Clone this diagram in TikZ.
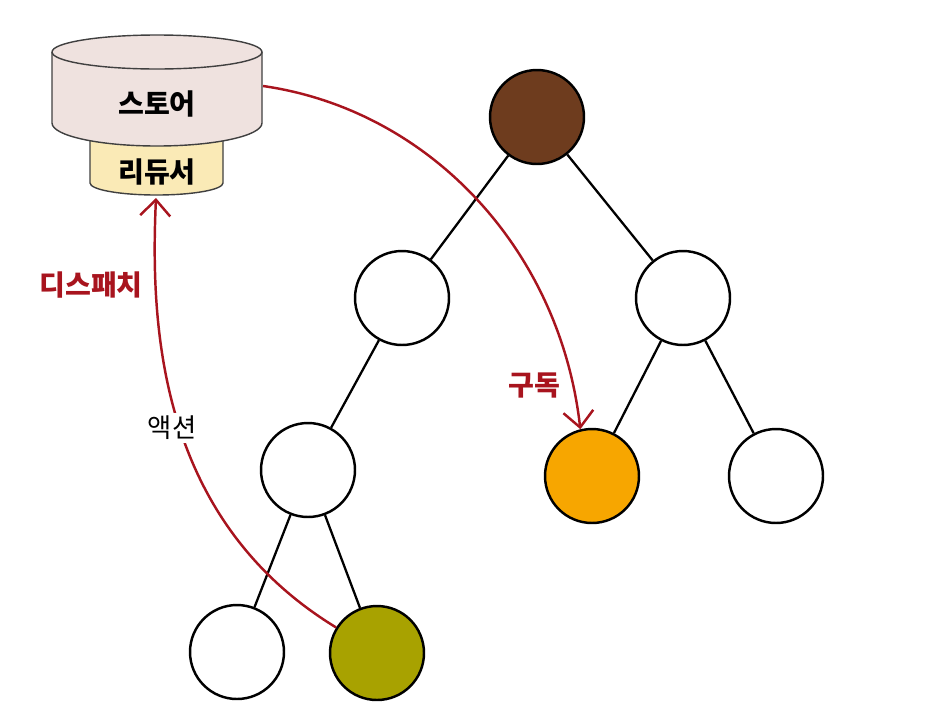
\documentclass[tikz,border=0pt]{standalone}
\usepackage{fontspec}
\newfontfamily\kr{Noto Sans CJK KR}
\usepackage{xcolor}
\usetikzlibrary{arrows.meta, positioning}
\definecolor{storefill}{HTML}{EFE2DF}
\definecolor{reducerfill}{HTML}{FAEAB6}
\definecolor{flowred}{HTML}{A8141E}
\definecolor{rootbrown}{HTML}{6E3C1E}
\definecolor{subsorange}{HTML}{F7A600}
\definecolor{actolive}{HTML}{A8A200}

\begin{document}
\begin{tikzpicture}[
    x=0.02cm, y=-0.02cm,
    vertex/.style={
      circle, draw=black, line width=1.4pt,
      minimum size=1.88cm, inner sep=0pt, fill=white
    },
    edge/.style={line width=1.3pt},
    cyl/.style={draw=black!75, line width=0.8pt},
    lbl/.style={font=\kr\bfseries\fontsize{16}{18}\selectfont},
    flow/.style={-{Straight Barb[length=3.2mm, width=6mm]}, line width=1.4pt, draw=flowred}
  ]
  \useasboundingbox (0,0) rectangle (928,714);

  % reducer under the store
  \draw[cyl, fill=reducerfill] (90,120) -- (90,183)
        arc[start angle=180, end angle=0, x radius=66.5, y radius=12] -- (223,120) -- cycle;
  % store cylinder
  \draw[cyl, fill=storefill] (52,52) -- (52,123)
        arc[start angle=180, end angle=0, x radius=105, y radius=23] -- (262,52);
  \draw[cyl, fill=storefill] (157,52) ellipse [x radius=105, y radius=17];

  \node[lbl] (store)   at (157,104) {스토어};
  \node[lbl] (reducer) at (157,172) {리듀서};
  \coordinate (storeport)   at (263,86);
  \coordinate (reducerport) at (156,198);

  % component tree
  \node[vertex, fill=rootbrown]   (root) at (537,117) {};
  \node[vertex]                   (l)    at (402,298) {};
  \node[vertex]                   (r)    at (683,298) {};
  \node[vertex]                   (ll)   at (308,470) {};
  \node[vertex, fill=subsorange]  (rl)   at (592,476) {};
  \node[vertex]                   (rr)   at (776,476) {};
  \node[vertex]                   (lll)  at (237,652) {};
  \node[vertex, fill=actolive]    (llr)  at (377,653) {};

  \draw[edge] (root) -- (l);
  \draw[edge] (root) -- (r);
  \draw[edge] (l) -- (ll);
  \draw[edge] (r) -- (rl);
  \draw[edge] (r) -- (rr);
  \draw[edge] (ll) -- (lll);
  \draw[edge] (ll) -- (llr);

  % dispatch and subscribe
  \draw[flow] (llr.148) .. controls (160,520) and (150,330) .. (reducerport);
  \draw[flow] (storeport) .. controls (430,110) and (560,250) .. (rl.104);

  \node[font=\kr\fontsize{15}{17}\selectfont, fill=white, inner sep=2pt] (action) at (172,428) {액션};
  \node[lbl, text=flowred] (dispatch)  at (91,285)  {디스패치};
  \node[lbl, text=flowred] (subscribe) at (534,385) {구독};
\end{tikzpicture}
\end{document}
